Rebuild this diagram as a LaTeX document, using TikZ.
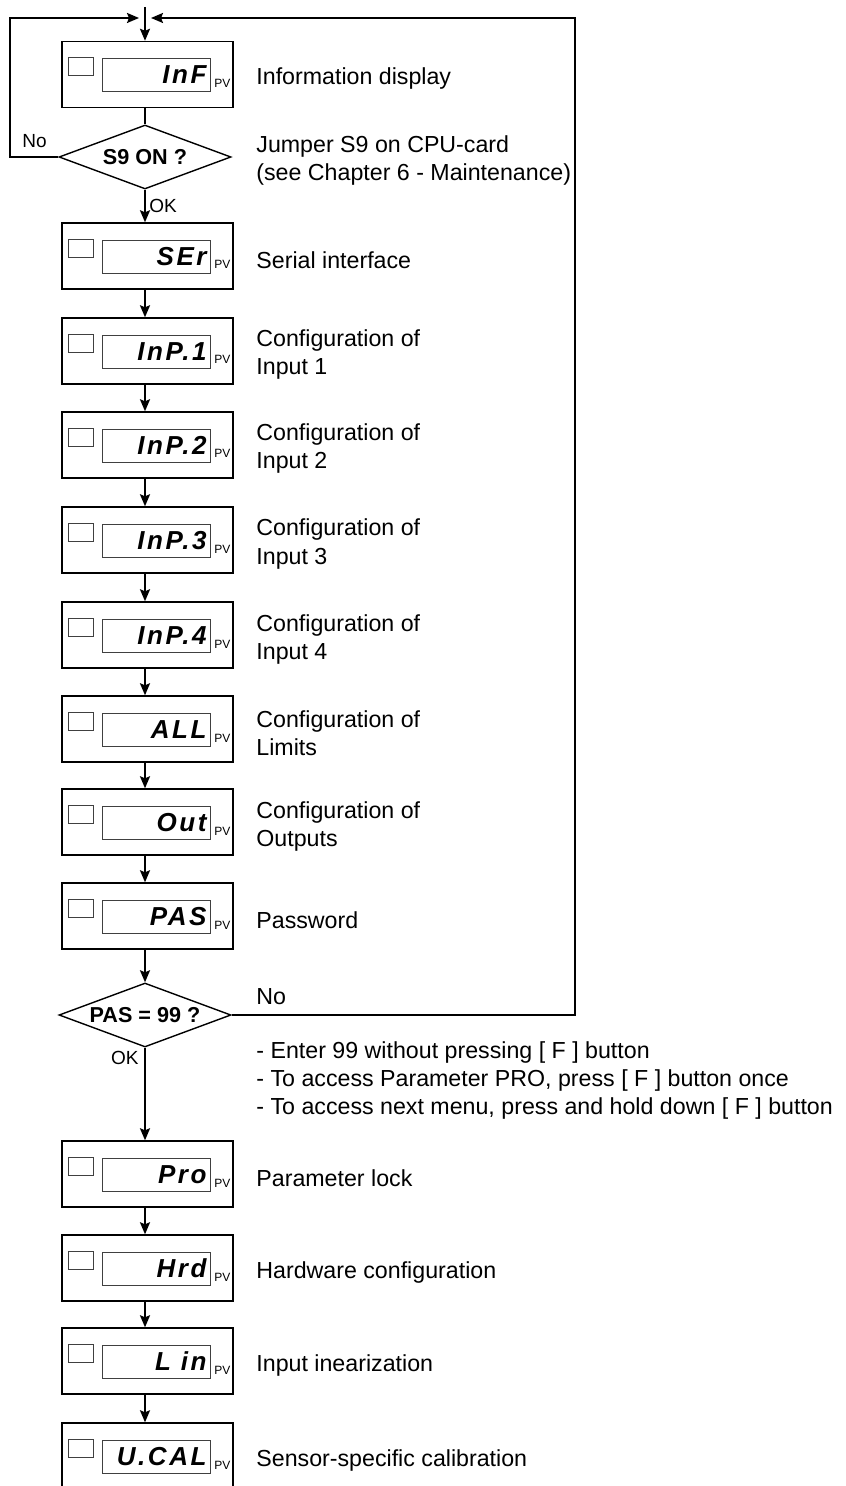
\documentclass[tikz,border=0pt]{standalone}
\usepackage{fontspec}
\setmainfont{Liberation Sans}
\newfontfamily\segfont{Liberation Sans}[LetterSpace=10]
\usetikzlibrary{arrows.meta,shapes.geometric}
\begin{document}
\begin{tikzpicture}[x=.5pt,y=-.5pt,
  box/.style={draw,line width=.7pt,minimum width=85.5pt,minimum height=33pt,inner sep=0pt},
  lcd/.style={draw=black!75,line width=.45pt,minimum width=54pt,minimum height=16.5pt,inner sep=0pt},
  led/.style={draw=black!75,line width=.45pt,minimum width=12.5pt,minimum height=9pt,inner sep=0pt},
  seg/.style={anchor=east,inner sep=0pt,font=\segfont\bfseries\itshape\fontsize{13}{13}\selectfont},
  pv/.style={anchor=base west,inner sep=0pt,font=\fontsize{6}{6}\selectfont},
  lab/.style={anchor=west,align=left,inner sep=0pt,font=\fontsize{11.6}{14}\selectfont},
  small/.style={inner sep=0pt,font=\fontsize{9.5}{11}\selectfont},
  dec/.style={draw,shape=diamond,aspect=2.7,line width=.7pt,minimum width=86pt,minimum height=32pt,inner sep=0pt,font=\bfseries\fontsize{10.8}{12}\selectfont},
  arr/.style={line width=1pt,-{Stealth[length=6pt,width=5pt,inset=1pt]}},
  wire/.style={line width=1pt}]
\useasboundingbox (0,0) rectangle (845,1486);
\clip (0,0) rectangle (845,1486);
\foreach \nm/\yy/\code/\lab in {
  inf/74.5/InF/Information display,
  ser/256/SEr/Serial interface,
  inp1/351/InP.1/{Configuration of\\Input 1},
  inp2/445/InP.2/{Configuration of\\Input 2},
  inp3/540/InP.3/{Configuration of\\Input 3},
  inp4/635/InP.4/{Configuration of\\Input 4},
  all/729/ALL/{Configuration of\\Limits},
  out/822/Out/{Configuration of\\Outputs},
  pas/916/PAS/Password,
  pro/1174/Pro/Parameter lock,
  hrd/1268/Hrd/Hardware configuration,
  lin/1361/L in/Input inearization,
  ucal/1456/U.CAL/Sensor-specific calibration}{
  \node[box] (\nm) at (147.5,\yy) {};
  \node[led] (\nm-led) at (80.5,\yy-8) {};
  \node[lcd] (\nm-lcd) at (156,\yy+.5) {};
  \node[seg] (\nm-txt) at (207,\yy+.5) {\code};
  \node[pv] (\nm-pv) at (214,\yy+13) {PV};
  \node[lab] (\nm-lab) at (256,\yy+4) {\lab};
}
\node[dec] (s9) at (145,157) {S9 ON ?};
\node[dec] (pas99) at (145,1015) {PAS = 99 ?};
\coordinate (top) at (145,7);
\coordinate (jl) at (139,18);
\coordinate (jr) at (151,18);
\coordinate (lc) at (10,18);
\coordinate (rc) at (575,18);
\draw[arr] (top) -- (top |- inf.north);
\draw[arr] (s9.west) -| (lc) -- (jl);
\draw[arr] (pas99.east) -| (rc) -- (jr);
\draw[wire] (top |- inf.south) -- (s9.north);
\draw[arr] (s9.south) -- (top |- ser.north);
\foreach \a/\b in {ser/inp1,inp1/inp2,inp2/inp3,inp3/inp4,inp4/all,all/out,out/pas,pro/hrd,hrd/lin,lin/ucal}
  \draw[arr] (top |- \a.south) -- (top |- \b.north);
\draw[arr] (top |- pas.south) -- (pas99.north);
\draw[arr] (pas99.south) -- (top |- pro.north);
\node[small,anchor=west] (no-s9) at (22,141) {No};
\node[small,anchor=west] (ok-s9) at (149,206) {OK};
\node[lab] (s9-lab) at (256,161) {Jumper S9 on CPU-card\\(see Chapter 6 - Maintenance)};
\node[lab] (no-pas) at (256,997) {No};
\node[small,anchor=east] (ok-pas) at (139,1058) {OK};
\node[lab] (note) at (256,1080) {- Enter 99 without pressing [ F ] button\\- To access Parameter PRO, press [ F ] button once\\- To access next menu, press and hold down [ F ] button};
\end{tikzpicture}
\end{document}
